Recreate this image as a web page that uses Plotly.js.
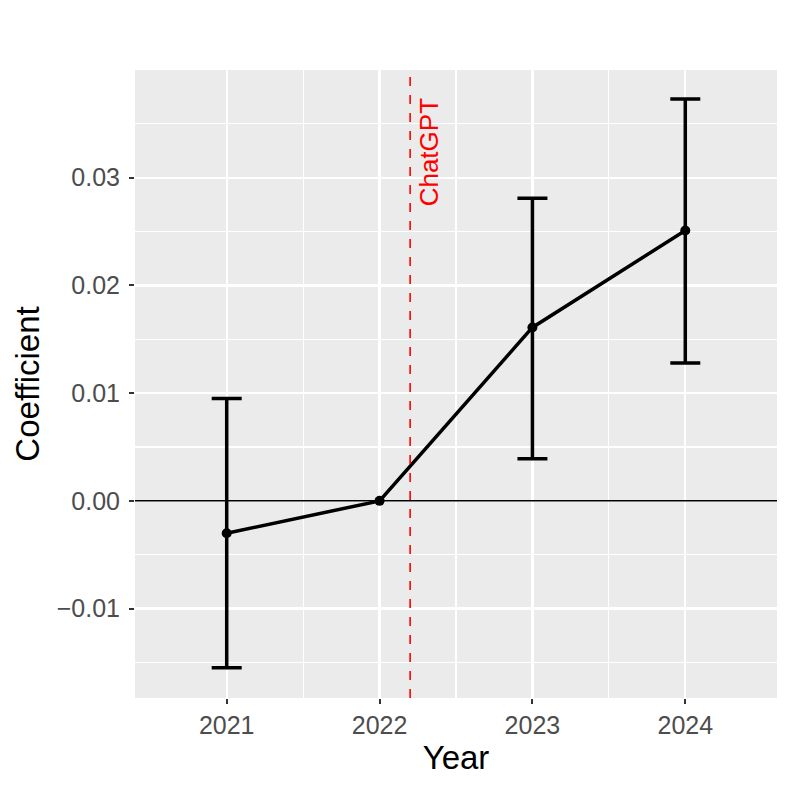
<!DOCTYPE html>
<html>
<head>
<meta charset="utf-8">
<script src="https://cdn.plot.ly/plotly-3.0.1.min.js"></script>
<style>html,body{margin:0;padding:0;background:#fff;}#chart{width:793px;height:793px;}</style>
</head>
<body>
<div id="chart"></div>
<script>
const years = [2021, 2022, 2023, 2024];
const coefficients = [-0.0030, 0.0000, 0.0161, 0.0251];
const ciUpper = [0.0095, null, 0.0281, 0.0373];
const ciLower = [-0.0155, null, 0.0039, 0.0128];
const yTicks = [-0.01, 0.00, 0.01, 0.02, 0.03];
const yMinorTicks = [-0.015, -0.005, 0.005, 0.015, 0.025, 0.035];
const xTickLabels = ["2021", "2022", "2023", "2024"];
const xMinorTicks = [2021.5, 2022.5, 2023.5];
const chatgptYear = 2022.2;
const chatgptLabel = "ChatGPT";
const labelYear = 2022.32;
const labelValue = 0.0324;
const zeroValue = 0;

const errPlus = coefficients.map((v, i) => ciUpper[i] === null ? NaN : ciUpper[i] - v);
const errMinus = coefficients.map((v, i) => ciLower[i] === null ? NaN : v - ciLower[i]);

const trace = {
  x: years,
  y: coefficients,
  type: 'scatter',
  mode: 'lines+markers',
  line: {color: '#000000', width: 3.5},
  marker: {color: '#000000', size: 10},
  error_y: {
    type: 'data', symmetric: false,
    array: errPlus, arrayminus: errMinus,
    color: '#000000', thickness: 3.5, width: 15
  },
  hoverinfo: 'skip'
};

const font = 'Liberation Sans, Arial, Helvetica, sans-serif';
const layout = {
  width: 793, height: 793,
  margin: {l: 135, r: 16, t: 70, b: 95},
  paper_bgcolor: '#FFFFFF',
  plot_bgcolor: '#EBEBEB',
  showlegend: false,
  font: {family: font},
  xaxis: {
    range: [2020.4, 2024.6],
    tickvals: years, ticktext: xTickLabels,
    showgrid: true, gridcolor: '#FFFFFF', gridwidth: 2.2,
    minor: {tickvals: xMinorTicks, showgrid: true, gridcolor: '#FFFFFF', gridwidth: 1.1, ticks: ''},
    zeroline: false, showline: false,
    ticks: 'outside', ticklen: 5, tickwidth: 2, tickcolor: '#333333',
    tickfont: {family: font, size: 25, color: '#4D4D4D'},
    title: {text: 'Year', font: {family: font, size: 33, color: '#000000'}, standoff: 7}
  },
  yaxis: {
    range: [-0.0183, 0.0400],
    tickvals: yTicks, tickformat: '.2f',
    showgrid: true, gridcolor: '#FFFFFF', gridwidth: 2.2,
    minor: {tickvals: yMinorTicks, showgrid: true, gridcolor: '#FFFFFF', gridwidth: 1.1, ticks: ''},
    zeroline: false, showline: false,
    ticks: 'outside', ticklen: 5, tickwidth: 2, tickcolor: '#333333',
    ticklabelstandoff: 4,
    tickfont: {family: font, size: 25, color: '#4D4D4D'},
    title: {text: 'Coefficient', font: {family: font, size: 33, color: '#000000'}, standoff: 7}
  },
  shapes: [
    {type: 'line', xref: 'paper', x0: 0, x1: 1, yref: 'y', y0: zeroValue, y1: zeroValue,
     line: {color: '#000000', width: 1.5}, layer: 'above'},
    {type: 'line', xref: 'x', x0: chatgptYear, x1: chatgptYear, yref: 'paper', y0: 0, y1: 1,
     line: {color: '#FF0000', width: 1.6, dash: 'dash'}, layer: 'above'}
  ],
  annotations: [
    {x: labelYear, y: labelValue, xref: 'x', yref: 'y', text: chatgptLabel, showarrow: false,
     textangle: -90, font: {family: font, size: 26, color: '#FF0000'}}
  ]
};

Plotly.newPlot('chart', [trace], layout, {staticPlot: true, displayModeBar: false});
</script>
</body>
</html>
